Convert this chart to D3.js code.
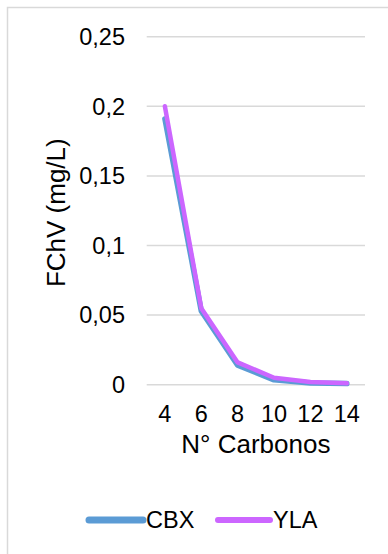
<!DOCTYPE html>
<html>
<head>
<meta charset="utf-8">
<script src="https://cdn.jsdelivr.net/npm/d3@7"></script>
<style>
  html, body { margin: 0; padding: 0; background: #fff; }
  svg { display: block; }
  text { font-family: "Liberation Sans", Arial, sans-serif; fill: #000; }
</style>
</head>
<body>
<svg id="chart" width="388" height="554"></svg>
<script>
// Carbon chain length (number of carbons)
const carbons = ["4", "6", "8", "10", "12", "14"];
// FChV concentration (mg/L) per sample
const cbxValues = [0.191, 0.053, 0.014, 0.0035, 0.0012, 0.0008];
const ylaValues = [0.200, 0.055, 0.016, 0.005, 0.002, 0.001];
// Y-axis ticks and their labels (comma decimal)
const yTicks = [0, 0.05, 0.1, 0.15, 0.2, 0.25];
const yTickLabels = ["0", "0,05", "0,1", "0,15", "0,2", "0,25"];

const series = [
  { name: "CBX", values: cbxValues, color: "#5B9BD5", width: 5.5 },
  { name: "YLA", values: ylaValues, color: "#CC66FF", width: 4.5 }
];

const svg = d3.select("#chart");
const W = 388, H = 554;
const plot = { left: 146.7, right: 365, top: 36.7, bottom: 384.7 };
const tickFont = 23.5;
const titleFont = 26;

// Outer chart frame (left and top edges visible)
svg.append("rect")
  .attr("x", 7.5).attr("y", 7.5)
  .attr("width", W + 20).attr("height", H + 20)
  .attr("fill", "#fff")
  .attr("stroke", "#d9d9d9").attr("stroke-width", 1.5);

const x = d3.scalePoint().domain(carbons).range([plot.left, plot.right]).padding(0.5);
const y = d3.scaleLinear().domain([0, 0.25]).range([plot.bottom, plot.top]);

// Horizontal gridlines
svg.append("g").selectAll("line").data(yTicks).join("line")
  .attr("x1", plot.left).attr("x2", plot.right)
  .attr("y1", d => y(d)).attr("y2", d => y(d))
  .attr("stroke", "#d9d9d9").attr("stroke-width", 1.5);

// Y tick labels
svg.append("g").selectAll("text").data(yTicks).join("text")
  .attr("x", 125).attr("y", d => y(d))
  .attr("dy", "0.35em")
  .attr("text-anchor", "end")
  .attr("font-size", tickFont)
  .text((d, i) => yTickLabels[i]);

// X tick labels
svg.append("g").selectAll("text").data(carbons).join("text")
  .attr("x", d => x(d)).attr("y", 414)
  .attr("dy", "0.35em")
  .attr("text-anchor", "middle")
  .attr("font-size", tickFont)
  .text(d => d);

// Axis titles
svg.append("text")
  .attr("x", (plot.left + plot.right) / 2).attr("y", 444)
  .attr("dy", "0.35em")
  .attr("text-anchor", "middle")
  .attr("font-size", titleFont)
  .text("N° Carbonos");

svg.append("text")
  .attr("transform", `translate(56,${(plot.top + plot.bottom) / 2 + 2}) rotate(-90)`)
  .attr("dy", "0.35em")
  .attr("text-anchor", "middle")
  .attr("font-size", titleFont)
  .text("FChV (mg/L)");

// Series lines
const line = d3.line().x((d, i) => x(carbons[i])).y(d => y(d));
svg.append("g").selectAll("path").data(series).join("path")
  .attr("d", s => line(s.values))
  .attr("fill", "none")
  .attr("stroke", s => s.color)
  .attr("stroke-width", s => s.width)
  .attr("stroke-linecap", "round")
  .attr("stroke-linejoin", "round");

// Legend
const legendItems = [
  { s: series[0], x1: 89, x2: 143, tx: 146 },
  { s: series[1], x1: 218, x2: 270, tx: 273 }
];
const lg = svg.append("g");
legendItems.forEach(it => {
  lg.append("line")
    .attr("x1", it.x1).attr("x2", it.x2)
    .attr("y1", 520).attr("y2", 520)
    .attr("stroke", it.s.color)
    .attr("stroke-width", it.s.width + 1.5)
    .attr("stroke-linecap", "round");
  lg.append("text")
    .attr("x", it.tx).attr("y", 520)
    .attr("dy", "0.35em")
    .attr("font-size", tickFont)
    .text(it.s.name);
});
</script>
</body>
</html>
